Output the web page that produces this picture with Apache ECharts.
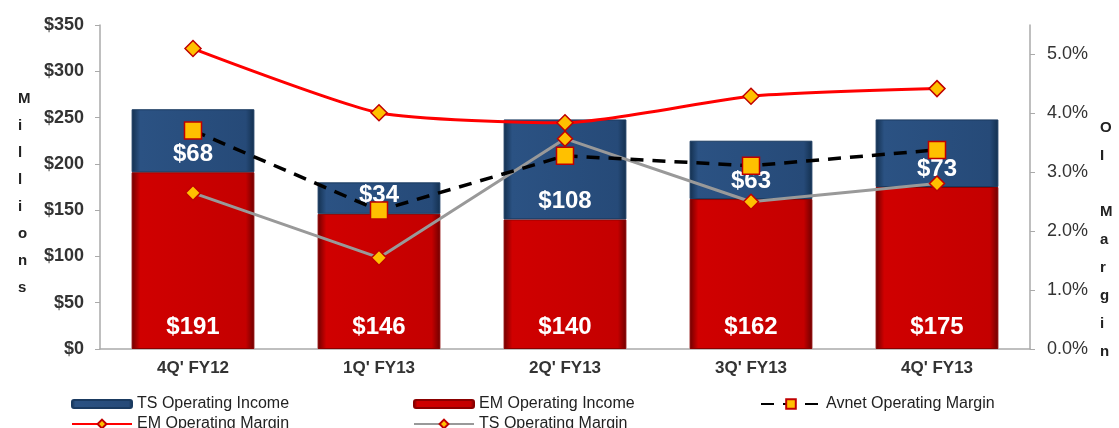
<!DOCTYPE html>
<html><head><meta charset="utf-8">
<script src="https://cdn.jsdelivr.net/npm/echarts@6/dist/echarts.min.js"></script>
<style>html,body{margin:0;padding:0;background:#fff}#c{width:1119px;height:428px}</style>
</head><body><div id="c"></div>
<script>
const categories = ["4Q' FY12", "1Q' FY13", "2Q' FY13", "3Q' FY13", "4Q' FY13"];
const emIncome = [191, 146, 140, 162, 175];
const tsIncome = [68, 34, 108, 63, 73];
const avnetMargin = [3.71, 2.35, 3.28, 3.11, 3.38];
const emMargin = [5.10, 4.01, 3.84, 4.29, 4.42];
const tsMargin = [2.65, 1.55, 3.57, 2.50, 2.81];
const leftTicks = [0, 50, 100, 150, 200, 250, 300, 350];

const FONT = "'Liberation Sans', Arial, sans-serif";
const chart = echarts.init(document.getElementById('c'));

function hGrad(edge, mid, mid2) {
  return new echarts.graphic.LinearGradient(0, 0, 1, 0, [
    {offset: 0, color: edge}, {offset: 0.07, color: mid}, {offset: 0.93, color: mid2}, {offset: 1, color: edge}
  ]);
}
const diamond = {color: '#ffc000', borderColor: '#c00000', borderWidth: 1.5};

function lg(name, left, top, h) {
  return {data: [name], left: left, top: top, itemWidth: 60, itemHeight: h, itemGap: 4,
    textStyle: {fontFamily: FONT, fontSize: 16, color: '#222'}};
}

chart.setOption({
  animation: false,
  grid: {left: 100, right: 89, top: 25, bottom: 79},
  legend: [
    lg('TS Operating Income', 66, 391, 8),
    lg('EM Operating Income', 408, 391, 8),
    lg('Avnet Operating Margin', 755, 391, 12),
    lg('EM Operating Margin', 66, 411, 11),
    lg('TS Operating Margin', 408, 411, 11)
  ],
  xAxis: {
    type: 'category', data: categories,
    axisLine: {lineStyle: {color: '#aaa', width: 1.5}},
    axisTick: {show: false},
    axisLabel: {fontFamily: FONT, fontSize: 17, fontWeight: 'bold', color: '#333', margin: 11}
  },
  yAxis: [
    {
      type: 'value', min: 0, max: 350, interval: 50,
      splitLine: {show: false},
      axisLine: {show: true, lineStyle: {color: '#aaa', width: 1.5}},
      axisTick: {show: true, inside: false, length: 5, lineStyle: {color: '#aaa'}},
      axisLabel: {fontFamily: FONT, fontSize: 18, fontWeight: 'bold', color: '#333', margin: 16,
        formatter: v => leftTicks.indexOf(v) >= 0 ? '$' + v : ''}
    },
    {
      type: 'value', min: 0, max: 5.5, interval: 1, position: 'right',
      splitLine: {show: false},
      axisLine: {show: true, lineStyle: {color: '#aaa', width: 1.5}},
      axisTick: {show: true, length: 5, lineStyle: {color: '#aaa'}},
      axisLabel: {fontFamily: FONT, fontSize: 18, color: '#333', margin: 17, showMaxLabel: false,
        formatter: v => v.toFixed(1) + '%'}
    }
  ],
  series: [
    {
      name: 'EM Operating Income', type: 'bar', stack: 'oi', data: emIncome, barWidth: '66%',
      itemStyle: {color: hGrad('#6e0000', '#d00000', '#c40000'), borderColor: '#8a0000', borderWidth: 1},
      label: {show: true, position: 'insideBottom', distance: 10, formatter: p => '$' + p.value,
        fontFamily: FONT, fontSize: 24, fontWeight: 'bold', color: '#fff'},
      z: 2
    },
    {
      name: 'TS Operating Income', type: 'bar', stack: 'oi', data: tsIncome, barWidth: '66%',
      itemStyle: {color: hGrad('#13304f', '#2b5283', '#264a78'), borderColor: '#1a3a60', borderWidth: 1},
      label: {show: true, position: 'insideBottom', distance: 6, formatter: p => '$' + p.value,
        fontFamily: FONT, fontSize: 24, fontWeight: 'bold', color: '#fff'},
      z: 2
    },
    {
      name: 'Avnet Operating Margin', type: 'line', yAxisIndex: 1, data: avnetMargin,
      symbol: 'rect', symbolSize: 17,
      lineStyle: {color: '#000', width: 3.5, type: [13, 9]},
      itemStyle: {color: '#ffc000', borderColor: '#c00000', borderWidth: 1.5}, z: 5
    },
    {
      name: 'EM Operating Margin', type: 'line', yAxisIndex: 1, data: emMargin, smooth: 0.2,
      symbol: 'diamond', symbolSize: 16,
      lineStyle: {color: '#ff0000', width: 3}, itemStyle: diamond, z: 4
    },
    {
      name: 'TS Operating Margin', type: 'line', yAxisIndex: 1, data: tsMargin,
      symbol: 'diamond', symbolSize: 15,
      lineStyle: {color: '#999999', width: 3}, itemStyle: diamond, z: 4
    }
  ],
  graphic: [
    {type: 'text', left: 18, top: 85, style: {text: 'M\ni\nl\nl\ni\no\nn\ns', fontFamily: FONT, fontSize: 15, fontWeight: 'bold', fill: '#222', lineHeight: 27, align: 'center'}},
    {type: 'text', left: 1100, top: 114, style: {text: 'O\nI\n\nM\na\nr\ng\ni\nn', fontFamily: FONT, fontSize: 15, fontWeight: 'bold', fill: '#222', lineHeight: 28, align: 'center'}}
  ]
});
</script></body></html>
